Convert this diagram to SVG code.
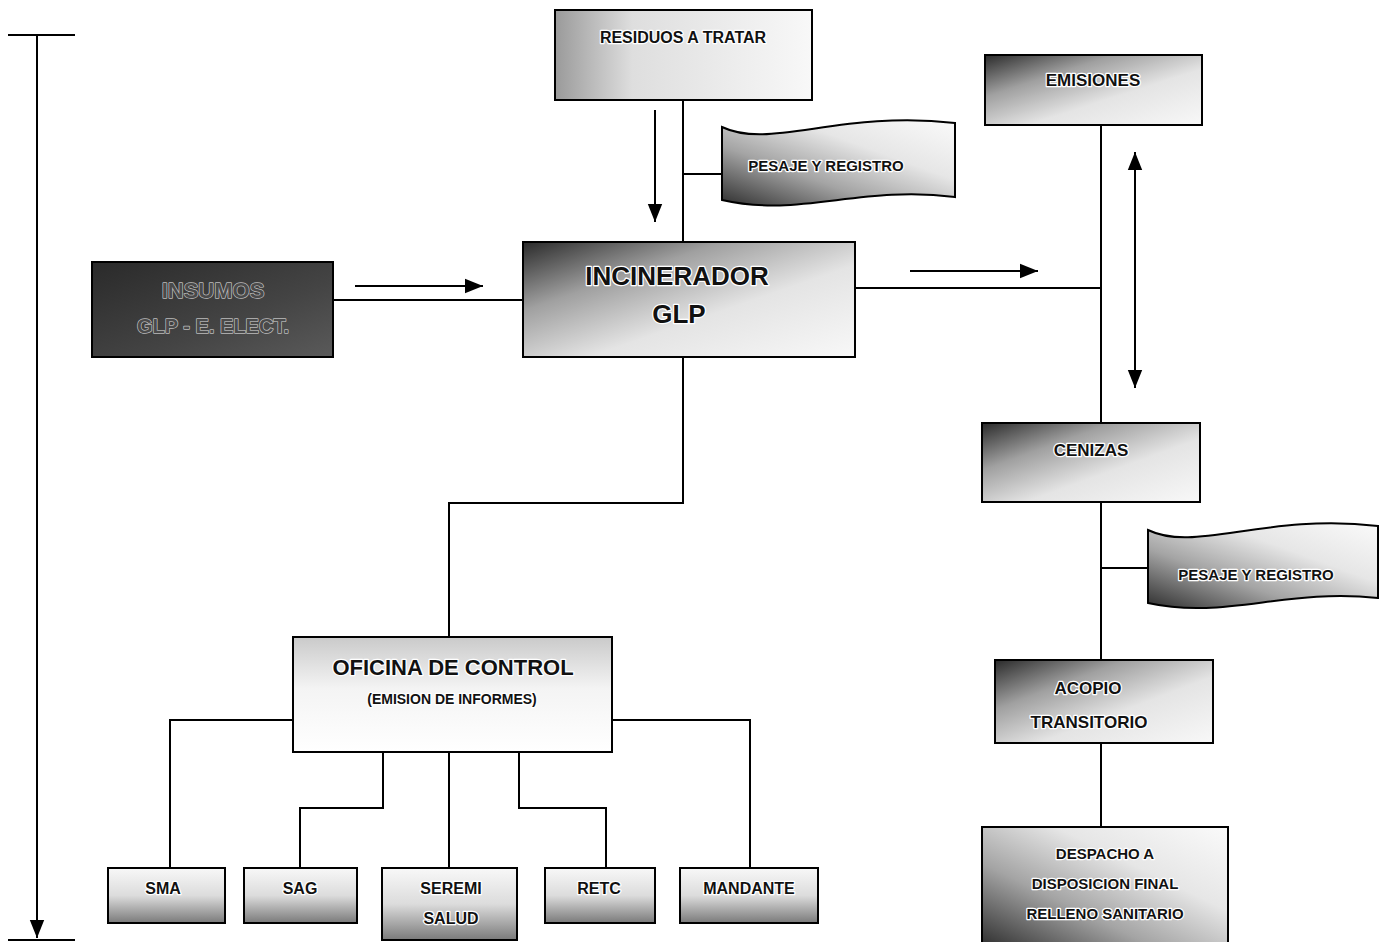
<svg xmlns="http://www.w3.org/2000/svg" width="1383" height="942" viewBox="0 0 1383 942">
<style>
.box{stroke:#000;stroke-width:2}
.ln{stroke:#000;stroke-width:2;fill:none}
.t{font-family:"Liberation Sans",Arial,sans-serif;font-weight:bold;fill:#111;text-anchor:middle;stroke:#fff;stroke-width:2.5;paint-order:stroke;stroke-linejoin:round}
</style>
<defs>
<linearGradient id="gDiag" x1="0" y1="0" x2="1" y2="1">
<stop offset="0" stop-color="#2a2a2a"/><stop offset="0.3" stop-color="#a0a0a0"/><stop offset="0.6" stop-color="#e4e4e4"/><stop offset="1" stop-color="#f8f8f8"/>
</linearGradient>
<linearGradient id="gLeft" x1="0" y1="0" x2="1" y2="0">
<stop offset="0" stop-color="#9a9a9a"/><stop offset="0.3" stop-color="#dedede"/><stop offset="1" stop-color="#f8f8f8"/>
</linearGradient>
<linearGradient id="gDark" x1="0" y1="0" x2="1" y2="1">
<stop offset="0" stop-color="#2a2a2a"/><stop offset="0.6" stop-color="#444"/><stop offset="1" stop-color="#5a5a5a"/>
</linearGradient>
<linearGradient id="gBL" x1="0" y1="1" x2="1" y2="0">
<stop offset="0" stop-color="#2e2e2e"/><stop offset="0.35" stop-color="#a4a4a4"/><stop offset="0.65" stop-color="#e6e6e6"/><stop offset="1" stop-color="#fafafa"/>
</linearGradient>
<linearGradient id="gBottom" x1="0" y1="0" x2="0" y2="1">
<stop offset="0" stop-color="#f8f8f8"/><stop offset="0.5" stop-color="#dcdcdc"/><stop offset="1" stop-color="#7a7a7a"/>
</linearGradient>
<linearGradient id="gTop" x1="0" y1="0" x2="0" y2="1">
<stop offset="0" stop-color="#cacaca"/><stop offset="0.45" stop-color="#f4f4f4"/><stop offset="1" stop-color="#ffffff"/>
</linearGradient>
<marker id="ahL" viewBox="0 0 10 10" refX="10" refY="5" markerWidth="18" markerHeight="18" markerUnits="userSpaceOnUse" orient="auto-start-reverse">
<path d="M0,1 L10,5 L0,9 Z" fill="#000"/>
</marker>
</defs>

<g id="connectors">
<path class="ln" d="M8,35 H75"/>
<path class="ln" d="M37,35 V938" marker-end="url(#ahL)"/>
<path class="ln" d="M8,940 H75"/>
<path class="ln" d="M683,100 V242"/>
<path class="ln" d="M683,174 H722"/>
<path class="ln" d="M655,110 V222" marker-end="url(#ahL)"/>
<path class="ln" d="M333,300 H523"/>
<path class="ln" d="M355,286 H483" marker-end="url(#ahL)"/>
<path class="ln" d="M855,288 H1101"/>
<path class="ln" d="M910,271 H1038" marker-end="url(#ahL)"/>
<path class="ln" d="M1101,125 V423"/>
<path class="ln" d="M1135,152 V388" marker-start="url(#ahL)" marker-end="url(#ahL)"/>
<path class="ln" d="M1101,502 V660"/>
<path class="ln" d="M1101,568 H1148"/>
<path class="ln" d="M1101,743 V827"/>
<path class="ln" d="M683,357 V503 H449 V637"/>
<path class="ln" d="M293,720 H170 V868"/>
<path class="ln" d="M612,720 H750 V868"/>
<path class="ln" d="M383,752 V808 H300 V868"/>
<path class="ln" d="M449,752 V868"/>
<path class="ln" d="M519,752 V808 H606 V868"/>
</g>

<g id="residuos">
<rect class="box" x="555" y="10" width="257" height="90" fill="url(#gLeft)"/>
<text class="t" x="683" y="43" font-size="16">RESIDUOS A TRATAR</text>
</g>

<g id="pesaje1">
<path class="box" d="M722,127 C770,150 840,110 955,123 L955,197 C860,185 800,218 722,200 Z" fill="url(#gBL)"/>
<text class="t" x="826" y="171" font-size="15">PESAJE Y REGISTRO</text>
</g>

<g id="insumos">
<rect class="box" x="92" y="262" width="241" height="95" fill="url(#gDark)"/>
<text class="t" x="213" y="298" font-size="22" style="fill:#4a4a4a;stroke:#bbb;stroke-width:1.5">INSUMOS</text>
<text class="t" x="213" y="333" font-size="20" style="fill:#4a4a4a;stroke:#bbb;stroke-width:1.5">GLP - E. ELECT.</text>
</g>

<g id="incinerador">
<rect class="box" x="523" y="242" width="332" height="115" fill="url(#gDiag)"/>
<text class="t" x="677" y="285" font-size="26">INCINERADOR</text>
<text class="t" x="679" y="323" font-size="26">GLP</text>
</g>

<g id="emisiones">
<rect class="box" x="985" y="55" width="217" height="70" fill="url(#gDiag)"/>
<text class="t" x="1093" y="86" font-size="17">EMISIONES</text>
</g>

<g id="cenizas">
<rect class="box" x="982" y="423" width="218" height="79" fill="url(#gDiag)"/>
<text class="t" x="1091" y="456" font-size="17">CENIZAS</text>
</g>

<g id="pesaje2">
<path class="box" d="M1148,530 C1195,553 1265,513 1378,526 L1378,598 C1285,588 1225,620 1148,603 Z" fill="url(#gBL)"/>
<text class="t" x="1256" y="580" font-size="15">PESAJE Y REGISTRO</text>
</g>

<g id="acopio">
<rect class="box" x="995" y="660" width="218" height="83" fill="url(#gDiag)"/>
<text class="t" x="1088" y="694" font-size="17">ACOPIO</text>
<text class="t" x="1089" y="728" font-size="17">TRANSITORIO</text>
</g>

<g id="despacho">
<rect class="box" x="982" y="827" width="246" height="120" fill="url(#gBL)"/>
<text class="t" x="1105" y="859" font-size="15">DESPACHO A</text>
<text class="t" x="1105" y="889" font-size="15">DISPOSICION FINAL</text>
<text class="t" x="1105" y="919" font-size="15">RELLENO SANITARIO</text>
</g>

<g id="oficina">
<rect class="box" x="293" y="637" width="319" height="115" fill="url(#gTop)"/>
<text class="t" x="453" y="675" font-size="22">OFICINA DE CONTROL</text>
<text class="t" x="452" y="704" font-size="14">(EMISION DE INFORMES)</text>
</g>

<g id="sma">
<rect class="box" x="108" y="868" width="117" height="55" fill="url(#gBottom)"/>
<text class="t" x="163" y="894" font-size="16">SMA</text>
</g>
<g id="sag">
<rect class="box" x="244" y="868" width="113" height="55" fill="url(#gBottom)"/>
<text class="t" x="300" y="894" font-size="16">SAG</text>
</g>
<g id="seremi">
<rect class="box" x="382" y="868" width="135" height="72" fill="url(#gBottom)"/>
<text class="t" x="451" y="894" font-size="16">SEREMI</text>
<text class="t" x="451" y="924" font-size="16">SALUD</text>
</g>
<g id="retc">
<rect class="box" x="545" y="868" width="110" height="55" fill="url(#gBottom)"/>
<text class="t" x="599" y="894" font-size="16">RETC</text>
</g>
<g id="mandante">
<rect class="box" x="680" y="868" width="138" height="55" fill="url(#gBottom)"/>
<text class="t" x="749" y="894" font-size="16">MANDANTE</text>
</g>
</svg>
